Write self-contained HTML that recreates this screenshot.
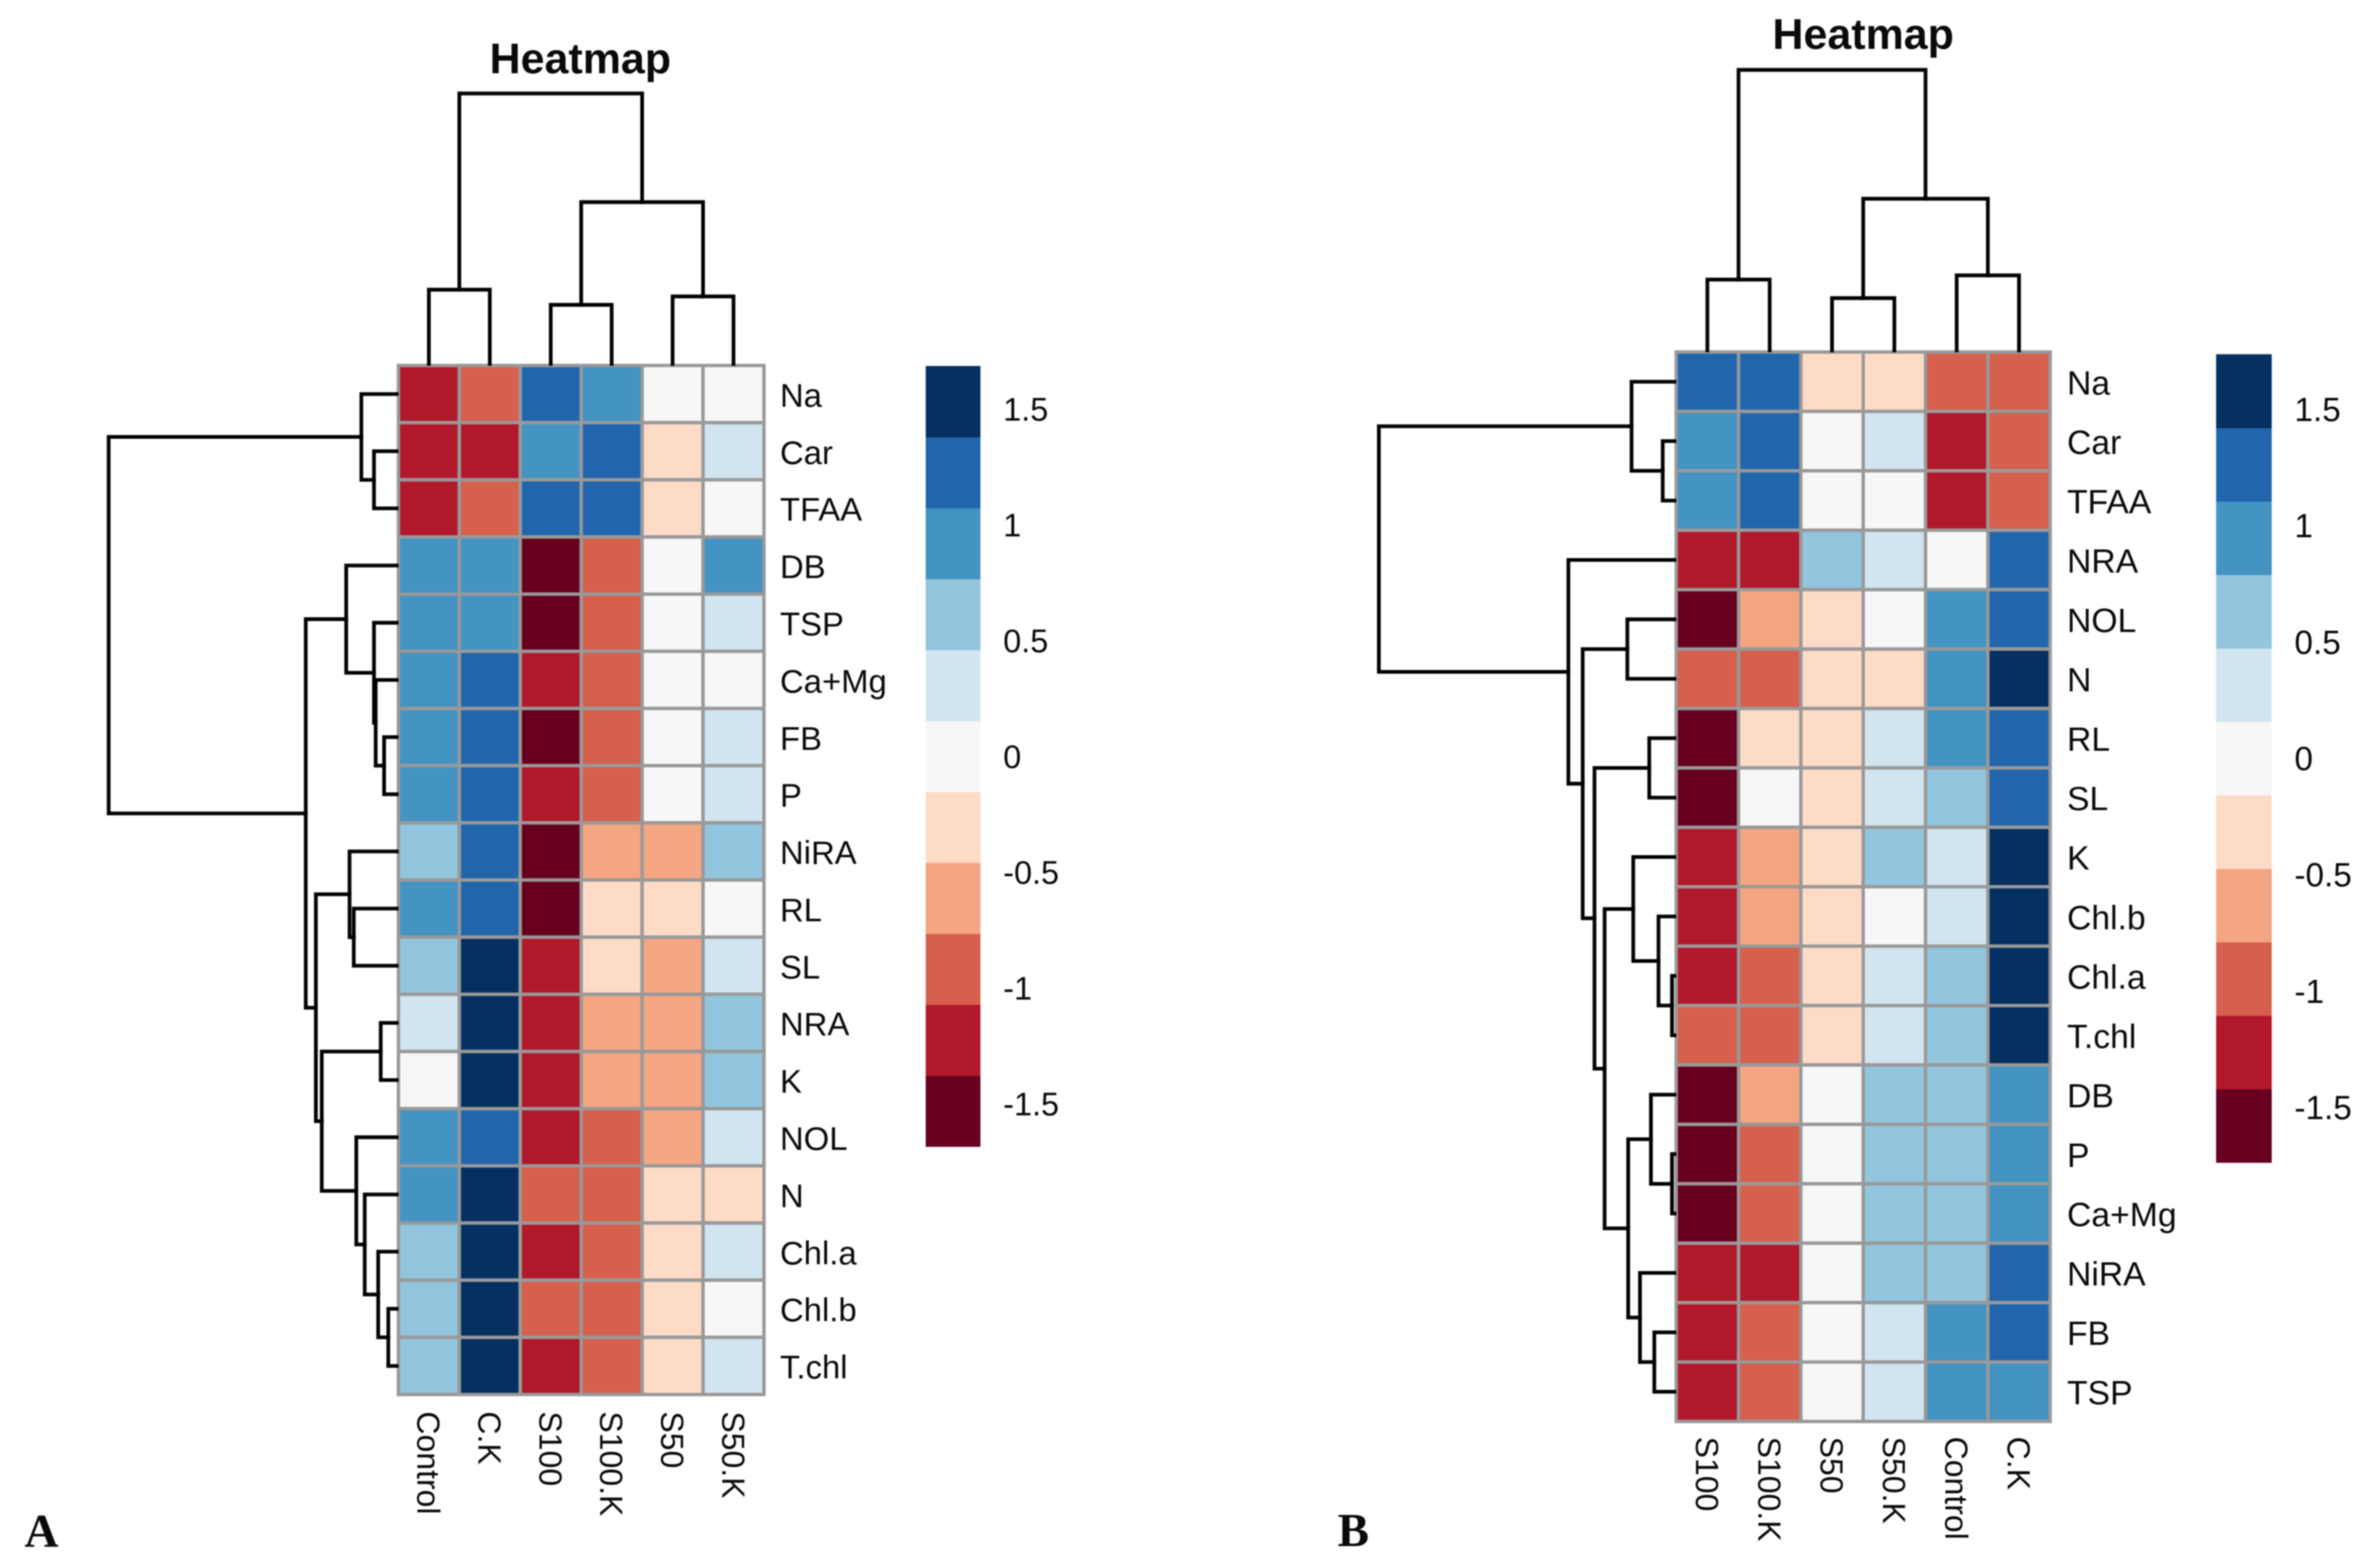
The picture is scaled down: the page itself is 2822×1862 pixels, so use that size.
<!DOCTYPE html>
<html lang="en">
<head>
<meta charset="utf-8">
<title>Heatmap panels A and B</title>
<style>
html,body{margin:0;padding:0;background:#fff;}
svg{display:block;filter:blur(0.7px);}
text{font-family:"Liberation Sans",sans-serif;fill:#0a0a0a;}
</style>
</head>
<body>
<svg id="chart" xmlns="http://www.w3.org/2000/svg" width="2822" height="1862" viewBox="0 0 2822 1862">
<rect x="0" y="0" width="2822" height="1862" fill="#fff"/>
<text x="29" y="1837" style="font-family:'Liberation Serif',serif;font-weight:bold;font-size:56px">A</text>
<text x="1588" y="1836" style="font-family:'Liberation Serif',serif;font-weight:bold;font-size:56px">B</text>
<text x="689" y="87" text-anchor="middle" style="font-weight:bold;font-size:51px">Heatmap</text>
<text x="2212" y="58" text-anchor="middle" style="font-weight:bold;font-size:51px">Heatmap</text>
</svg>
<script>
const paletteColors = ["#67001F","#B2182B","#D6604D","#F4A582","#FDDBC7","#F7F7F7","#D1E5F0","#92C5DE","#4393C3","#2166AC","#053061"];
const legendTicks = [1.5,1,0.5,0,-0.5,-1,-1.5];

const rowLabelsA = ["Na","Car","TFAA","DB","TSP","Ca+Mg","FB","P","NiRA","RL","SL","NRA","K","NOL","N","Chl.a","Chl.b","T.chl"];
const colLabelsA = ["Control","C.K","S100","S100.K","S50","S50.K"];
const valuesA = [
[-1.2,-0.9,1.2,0.9,0,0],
[-1.2,-1.2,0.9,1.2,-0.3,0.3],
[-1.2,-0.9,1.2,1.2,-0.3,0],
[0.9,0.9,-1.5,-0.9,0,0.9],
[0.9,0.9,-1.5,-0.9,0,0.3],
[0.9,1.2,-1.2,-0.9,0,0],
[0.9,1.2,-1.5,-0.9,0,0.3],
[0.9,1.2,-1.2,-0.9,0,0.3],
[0.6,1.2,-1.5,-0.6,-0.6,0.6],
[0.9,1.2,-1.5,-0.3,-0.3,0],
[0.6,1.5,-1.2,-0.3,-0.6,0.3],
[0.3,1.5,-1.2,-0.6,-0.6,0.6],
[0,1.5,-1.2,-0.6,-0.6,0.6],
[0.9,1.2,-1.2,-0.9,-0.6,0.3],
[0.9,1.5,-0.9,-0.9,-0.3,-0.3],
[0.6,1.5,-1.2,-0.9,-0.3,0.3],
[0.6,1.5,-0.9,-0.9,-0.3,0],
[0.6,1.5,-1.2,-0.9,-0.3,0.3]
];
const rowMergesA = [
[-2,-3,0.29],[-1,1,0.44],[-7,-8,0.17],[-6,3,0.27],[-5,4,0.29],[-4,5,0.62],
[-10,-11,0.53],[-9,7,0.58],[-12,-13,0.21],[-17,-18,0.12],[-16,10,0.24],
[-15,11,0.40],[-14,12,0.50],[9,13,0.91],[8,14,0.98],[6,15,1.10],[2,16,3.44]
];
const colMergesA = [[-1,-2,0.90],[-3,-4,0.72],[-5,-6,0.82],[2,3,1.94],[1,4,3.23]];

const rowLabelsB = ["Na","Car","TFAA","NRA","NOL","N","RL","SL","K","Chl.b","Chl.a","T.chl","DB","P","Ca+Mg","NiRA","FB","TSP"];
const colLabelsB = ["S100","S100.K","S50","S50.K","Control","C.K"];
const valuesB = [
[1.2,1.2,-0.3,-0.3,-0.9,-0.9],
[0.9,1.2,0,0.3,-1.2,-0.9],
[0.9,1.2,0,0,-1.2,-0.9],
[-1.2,-1.2,0.6,0.3,0,1.2],
[-1.5,-0.6,-0.3,0,0.9,1.2],
[-0.9,-0.9,-0.3,-0.3,0.9,1.5],
[-1.5,-0.3,-0.3,0.3,0.9,1.2],
[-1.5,0,-0.3,0.3,0.6,1.2],
[-1.2,-0.6,-0.3,0.6,0.3,1.5],
[-1.2,-0.6,-0.3,0,0.3,1.5],
[-1.2,-0.9,-0.3,0.3,0.6,1.5],
[-0.9,-0.9,-0.3,0.3,0.6,1.5],
[-1.5,-0.6,0,0.6,0.6,0.9],
[-1.5,-0.9,0,0.6,0.6,0.9],
[-1.5,-0.9,0,0.6,0.6,0.9],
[-1.2,-1.2,0,0.6,0.6,1.2],
[-1.2,-0.9,0,0.3,0.9,1.2],
[-1.2,-0.9,0,0.3,0.9,0.9]
];
const rowMergesB = [
[-2,-3,0.16],[-1,1,0.53],[-5,-6,0.58],[-7,-8,0.32],[-11,-12,0.05],[-10,5,0.21],
[-9,6,0.51],[-14,-15,0.05],[-13,8,0.30],[-17,-18,0.26],[-16,10,0.43],[9,11,0.57],
[7,12,0.85],[4,13,0.97],[3,14,1.11],[-4,15,1.28],[2,16,3.53]
];
const colMergesB = [[-1,-2,0.86],[-3,-4,0.64],[-5,-6,0.91],[2,3,1.82],[1,4,3.35]];

const NS = "http://www.w3.org/2000/svg";
const root = document.getElementById("chart");

function mk(tag, parent) {
  const el = document.createElementNS(NS, tag);
  parent.appendChild(el);
  return el;
}

function drawDendrogram(parent, merges, leafPos, heightPos, horizontal, prefix) {
  const nodes = [];
  const at = (ref) => ref < 0 ? {p: leafPos(-ref - 1), h: 0} : nodes[ref - 1];
  merges.forEach((m, i) => {
    const a = at(m[0]);
    const b = at(m[1]);
    const top = heightPos(m[2]);
    let d;
    if (horizontal) {
      d = "M" + heightPos(a.h) + " " + a.p + "H" + top + "V" + b.p + "H" + heightPos(b.h);
    } else {
      d = "M" + a.p + " " + heightPos(a.h) + "V" + top + "H" + b.p + "V" + heightPos(b.h);
    }
    const path = mk("path", parent);
    
    
    path.setAttribute("d", d);
    path.setAttribute("fill", "none");
    path.setAttribute("stroke", "#000");
    path.setAttribute("stroke-width", "4.4");
    path.setAttribute("stroke-linecap", "square");
    nodes.push({p: (a.p + b.p) / 2, h: m[2]});
  });
}

function drawPanel(cfg) {
  const g = mk("g", root);
  
  

  const nRows = cfg.rows.length;
  const nCols = cfg.cols.length;
  const cw = (cfg.right - cfg.left) / nCols;
  const ch = (cfg.bottom - cfg.top) / nRows;
  const colX = (j) => cfg.left + cw * (j + 0.5);
  const rowY = (i) => cfg.top + ch * (i + 0.5);
  const binOf = (v) => Math.max(0, Math.min(paletteColors.length - 1,
    Math.floor((v + cfg.range) / (2 * cfg.range) * paletteColors.length)));

  // cells
  cfg.values.forEach((row, i) => {
    row.forEach((v, j) => {
      const r = mk("rect", g);
      
      
      r.setAttribute("x", cfg.left + cw * j);
      r.setAttribute("y", cfg.top + ch * i);
      r.setAttribute("width", cw);
      r.setAttribute("height", ch);
      r.setAttribute("fill", paletteColors[binOf(v)]);
      r.setAttribute("stroke", "#999");
      r.setAttribute("stroke-width", "4");
    });
  });

  // row labels
  cfg.rows.forEach((label, i) => {
    const t = mk("text", g);
    
    
    t.setAttribute("x", cfg.rowLabelX);
    t.setAttribute("y", rowY(i) + 15);
    t.setAttribute("font-size", cfg.rowFont);
    t.textContent = label;
  });

  // column labels
  cfg.cols.forEach((label, j) => {
    const t = mk("text", g);
    
    
    t.setAttribute("transform", "translate(" + (colX(j) - 13.5) + " " + cfg.colLabelY + ") rotate(90)");
    t.setAttribute("font-size", "38");
    t.textContent = label;
  });

  // dendrograms
  drawDendrogram(g, cfg.rowMerges, rowY, (h) => cfg.left - h * 100 - (h === 0 ? 2 : 0), true, "row-dendrogram");
  drawDendrogram(g, cfg.colMerges, colX, (h) => cfg.top - h * 100 - (h === 0 ? 2 : 0), false, "column-dendrogram");

  // legend
  const legendY = (v) => cfg.legendMid - v * cfg.legendScale;
  const segH = (2 * cfg.range * cfg.legendScale) / paletteColors.length;
  paletteColors.forEach((color, k) => {
    const r = mk("rect", g);
    
    
    r.setAttribute("x", cfg.legendX);
    r.setAttribute("y", legendY(cfg.range) + segH * (paletteColors.length - 1 - k));
    r.setAttribute("width", cfg.legendW);
    r.setAttribute("height", segH + 0.5);
    r.setAttribute("fill", color);
  });
  legendTicks.forEach((v) => {
    const t = mk("text", g);
    
    
    t.setAttribute("x", cfg.legendLabelX);
    t.setAttribute("y", legendY(v) + 14);
    t.setAttribute("font-size", cfg.legendFont);
    t.textContent = String(v);
  });
}

drawPanel({
  name: "heatmap-panel-a", rows: rowLabelsA, cols: colLabelsA, values: valuesA,
  rowMerges: rowMergesA, colMerges: colMergesA,
  left: 473, right: 907, top: 434, bottom: 1656, range: 1.685,
  rowLabelX: 926, colLabelY: 1676, rowFont: 39, legendFont: 38.5,
  legendX: 1099, legendW: 65, legendMid: 898, legendScale: 275, legendLabelX: 1191
});

drawPanel({
  name: "heatmap-panel-b", rows: rowLabelsB, cols: colLabelsB, values: valuesB,
  rowMerges: rowMergesB, colMerges: colMergesB,
  left: 1990, right: 2434, top: 418, bottom: 1688, range: 1.736,
  rowLabelX: 2454, colLabelY: 1706, rowFont: 40, legendFont: 39.5,
  legendX: 2631, legendW: 66, legendMid: 900.5, legendScale: 276.4, legendLabelX: 2724
});
</script>
</body>
</html>
